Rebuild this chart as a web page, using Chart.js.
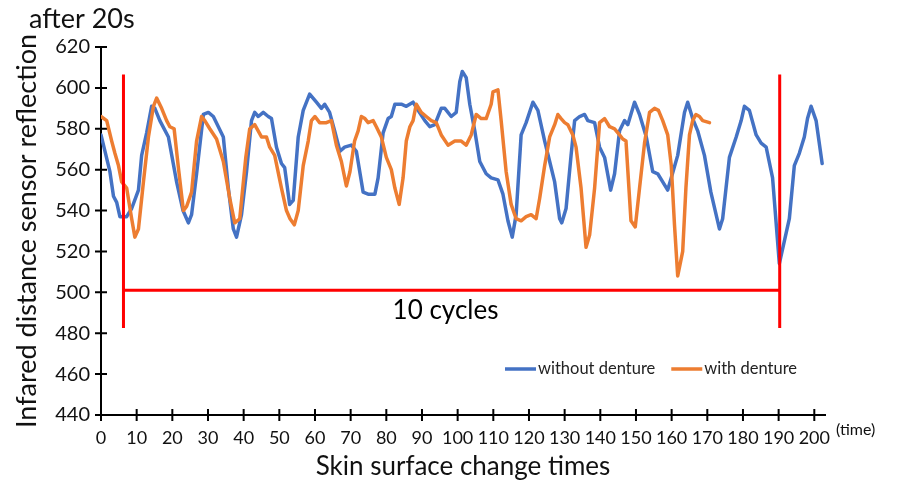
<!DOCTYPE html>
<html>
<head>
<meta charset="utf-8">
<script src="https://cdn.jsdelivr.net/npm/chart.js@4.4.0/dist/chart.umd.min.js"></script>
<style>
  html, body { margin: 0; padding: 0; background: #fff; }
</style>
</head>
<body>
<canvas id="chart" width="900" height="484"></canvas>
<script>
// without denture (blue)
const withoutX = [0, 2.5, 3.5, 4.4, 5.3, 7.2, 8.6, 10.5, 11.4, 12.8, 14.2, 15.1, 16.5, 18.9, 21.2, 23, 24.5, 25.4, 26.8, 28.7,
  30.1, 31.5, 34.3, 35.7, 37.1, 38, 39.4, 40.8, 42.2, 43.1, 44.1, 45.5, 46.9, 47.8, 49.2, 50.6, 51.5, 52.9, 53.9, 55.3,
  56.7, 58.5, 60.4, 61.8, 62.7, 64.1, 65.5, 67, 68.3, 70.2, 71.6, 73.5, 74.9, 76.8, 77.7, 79.1, 80.5, 81.4, 82.4, 84.2,
  85.6, 87.5, 88.9, 90.8, 92.2, 93.6, 95.4, 96.4, 98.2, 99.6, 100.6, 101.3, 102.4, 103.4, 104.8, 106.2, 108, 109.4, 111.3, 112.7,
  114.1, 115.3, 116.4, 117.8, 119.2, 121.1, 122.5, 124.4, 125.8, 127.2, 128.6, 129.2, 130.4, 131.8, 132.8, 134.2, 135.6, 136.5, 138.4, 139.8,
  141.2, 142.9, 144, 145.4, 146.8, 147.7, 149.6, 151, 152.9, 154.7, 156.1, 157.5, 158.9, 159.9, 161.7, 163.6, 164.5, 165.9, 167.3, 169.2,
  171, 173.4, 174.3, 176.2, 178.1, 179.5, 180.4, 181.8, 183.7, 185.1, 186.5, 188.3, 190.2, 191.6, 193, 194.4, 195.8, 197.2, 198.1, 199.1,
  200.5, 202.2];
const withoutY = [577, 559, 547, 544, 537, 537, 541, 550, 567, 578, 591, 590, 584, 576, 554, 540, 534, 538, 558, 587,
  588, 586, 576, 551, 531, 527, 538, 559, 584, 588, 586, 588, 586, 585, 571, 563, 561, 543, 545, 576,
  589, 597, 593, 590, 592, 588, 579, 569, 571, 572, 569, 549, 548, 548, 556, 578, 585, 586, 592, 592,
  591, 593, 589, 584, 581, 582, 590, 590, 586, 588, 603, 608, 605, 592, 579, 564, 558, 556, 555, 548,
  535, 527, 538, 577, 583, 593, 589, 574, 564, 554, 536, 534, 541, 567, 584, 586, 587, 584, 583, 571,
  566, 550, 558, 579, 584, 582, 593, 587, 576, 559, 558, 554, 550, 556, 567, 588, 593, 585, 579, 567,
  549, 531, 536, 566, 576, 584, 591, 589, 577, 573, 571, 556, 514, 525, 536, 562, 568, 576, 585, 591,
  584, 563];

// with denture (orange)
const withX = [0, 1.6, 3, 3.9, 4.9, 5.8, 7.2, 8.6, 9.5, 10.5, 11.9, 13.3, 14.7, 15.6, 17, 18.4, 19.3, 20.5, 21.7, 23.1,
  24, 25.4, 26.8, 28.2, 29.1, 30.5, 32.4, 34.3, 36.1, 37.5, 38.9, 40.6, 41.7, 43.1, 45, 46.4, 47.3, 48.7, 50.6, 52,
  53, 54.2, 55.3, 56.7, 58.1, 59, 60, 61.3, 63.2, 64.6, 66, 67.4, 68.8, 69.8, 71.1, 72.1, 73, 74, 74.9, 76.3,
  77.2, 78.6, 80, 81.4, 82.4, 83.6, 84.7, 85.6, 86.6, 87.5, 88.4, 89.8, 91.2, 92.6, 94, 95.4, 97.3, 99.2, 101, 102.4,
  103.8, 105.2, 106.6, 108, 109.4, 109.9, 111.3, 112.2, 113.6, 115, 116.4, 117.8, 119.2, 120.6, 122, 123, 124.4, 125.8, 127.2, 128.1,
  129, 130, 130.9, 132.3, 133.2, 134.6, 136, 137, 138.4, 139.8, 141.2, 142.6, 144, 145.4, 146.3, 147.2, 148.6, 149.8, 151, 152.4,
  153.8, 155.2, 156.3, 157.5, 158.9, 159.9, 160.8, 161.7, 163.1, 164, 165, 165.9, 166.8, 167.8, 168.7, 170.6];
const withY = [586, 584, 574, 568, 562, 554, 551, 536, 527, 531, 554, 576, 591, 595, 590, 584, 581, 580, 561, 540,
  542, 549, 574, 586, 584, 580, 575, 564, 546, 534, 536, 566, 580, 582, 576, 576, 571, 567, 551, 540,
  536, 533, 540, 562, 574, 584, 586, 583, 583, 584, 572, 564, 552, 559, 574, 579, 586, 585, 583, 584,
  581, 576, 566, 560, 551, 543, 556, 574, 581, 584, 592, 588, 586, 584, 583, 577, 572, 574, 574, 572,
  577, 587, 585, 585, 592, 598, 599, 584, 559, 543, 536, 535, 537, 538, 536, 546, 562, 576, 582, 587,
  585, 583, 582, 577, 571, 551, 522, 528, 551, 583, 585, 581, 580, 577, 575, 574, 535, 532, 551, 573,
  588, 590, 589, 584, 577, 562, 533, 508, 520, 551, 577, 584, 587, 586, 584, 583];

const seriesNames = ['without denture', 'with denture'];
const seriesColors = ['#4472C4', '#ED7D31'];
const xTickValues = [0, 10, 20, 30, 40, 50, 60, 70, 80, 90, 100, 110, 120, 130, 140, 150, 160, 170, 180, 190, 200];
const yTickValues = [440, 460, 480, 500, 520, 540, 560, 580, 600, 620];

// red "10 cycles" bracket
const cycleBounds = [6.3, 190.3];
const cycleLevel = 501;
const cycleSpan = [482.5, 606.5];

const toPoints = (xs, ys) => xs.map((x, i) => ({ x: x, y: ys[i] }));

const axisTicks = {
    id: 'axisTicks',
    beforeDatasetsDraw(chart) {
        const { ctx, chartArea, scales: { x, y } } = chart;
        ctx.save();
        ctx.strokeStyle = '#000';
        ctx.lineWidth = 2;
        ctx.beginPath();
        yTickValues.forEach(v => {
            const py = y.getPixelForValue(v);
            ctx.moveTo(chartArea.left - 6, py);
            ctx.lineTo(chartArea.left + 6, py);
        });
        xTickValues.forEach(v => {
            const px = x.getPixelForValue(v);
            ctx.moveTo(px, chartArea.bottom - 6);
            ctx.lineTo(px, chartArea.bottom + 6);
        });
        ctx.stroke();
        ctx.restore();
    }
};

const cycleMarks = {
    id: 'cycleMarks',
    afterDatasetsDraw(chart) {
        const { ctx, scales: { x, y } } = chart;
        const x0 = x.getPixelForValue(cycleBounds[0]);
        const x1 = x.getPixelForValue(cycleBounds[1]);
        const yl = y.getPixelForValue(cycleLevel);
        const yTop = y.getPixelForValue(cycleSpan[1]);
        const yBot = y.getPixelForValue(cycleSpan[0]);
        ctx.save();
        ctx.strokeStyle = '#FF0000';
        ctx.lineWidth = 3;
        ctx.beginPath();
        ctx.moveTo(x0, yTop); ctx.lineTo(x0, yBot);
        ctx.moveTo(x1, yTop); ctx.lineTo(x1, yBot);
        ctx.moveTo(x0, yl); ctx.lineTo(x1, yl);
        ctx.stroke();
        ctx.fillStyle = '#000';
        ctx.font = '26px Lato, sans-serif';
        ctx.textAlign = 'center';
        ctx.textBaseline = 'middle';
        ctx.fillText('10 cycles', x.getPixelForValue(96.6), y.getPixelForValue(491));
        ctx.restore();
    }
};

const extraText = {
    id: 'extraText',
    afterDraw(chart) {
        const { ctx, chartArea } = chart;
        ctx.save();
        ctx.fillStyle = '#111';
        ctx.font = '27px Lato, sans-serif';
        ctx.textBaseline = 'middle';
        ctx.fillText('after 20s', 29, 19);
        ctx.font = '16px Lato, sans-serif';
        ctx.fillText('(time)', chartArea.right + 11, chartArea.bottom + 15);

        // legend inside plot area
        ctx.font = '16.5px Lato, sans-serif';
        let lx = 505;
        const ly = 369;
        seriesNames.forEach((name, i) => {
            ctx.strokeStyle = seriesColors[i];
            ctx.lineWidth = 3.5;
            ctx.beginPath();
            ctx.moveTo(lx, ly); ctx.lineTo(lx + 31, ly);
            ctx.stroke();
            ctx.fillStyle = '#222';
            ctx.fillText(name, lx + 33, ly);
            lx += 33 + ctx.measureText(name).width + 16;
        });
        ctx.restore();
    }
};

new Chart(document.getElementById('chart'), {
    type: 'line',
    data: {
        datasets: [
            {
                label: seriesNames[0],
                data: toPoints(withoutX, withoutY),
                borderColor: seriesColors[0],
                borderWidth: 3.5,
                order: 1
            },
            {
                label: seriesNames[1],
                data: toPoints(withX, withY),
                borderColor: seriesColors[1],
                borderWidth: 3.5,
                order: 0
            }
        ]
    },
    options: {
        responsive: false,
        animation: false,
        elements: {
            point: { radius: 0 },
            line: { tension: 0, borderCapStyle: 'round', borderJoinStyle: 'round' }
        },
        layout: { padding: { left: 0, right: 75, top: 47, bottom: 0 } },
        plugins: {
            legend: { display: false },
            tooltip: { enabled: false }
        },
        scales: {
            x: {
                type: 'linear',
                min: 0,
                max: 203,
                afterFit: (scale) => { scale.height = 69; },
                grid: { display: false, drawTicks: false },
                border: { display: true, color: '#000', width: 2 },
                ticks: {
                    stepSize: 10,
                    includeBounds: false,
                    autoSkip: false,
                    maxRotation: 0,
                    padding: 12,
                    color: '#111',
                    font: { family: "'Liberation Sans Narrow', Lato, sans-serif", size: 18 }
                },
                title: {
                    display: true,
                    text: 'Skin surface change times',
                    color: '#111',
                    font: { family: 'Lato, sans-serif', size: 26 },
                    padding: { bottom: 2 }
                }
            },
            y: {
                min: 440,
                max: 620,
                afterFit: (scale) => { scale.width = 101; },
                grid: { display: false, drawTicks: false },
                border: { display: true, color: '#000', width: 2 },
                ticks: {
                    stepSize: 20,
                    padding: 11,
                    color: '#111',
                    font: { family: 'Lato, sans-serif', size: 20 }
                },
                title: {
                    display: true,
                    text: 'Infared distance sensor reflection',
                    color: '#111',
                    font: { family: 'Lato, sans-serif', size: 27 },
                    padding: { top: 11 }
                }
            }
        }
    },
    plugins: [axisTicks, cycleMarks, extraText]
});
</script>
</body>
</html>
